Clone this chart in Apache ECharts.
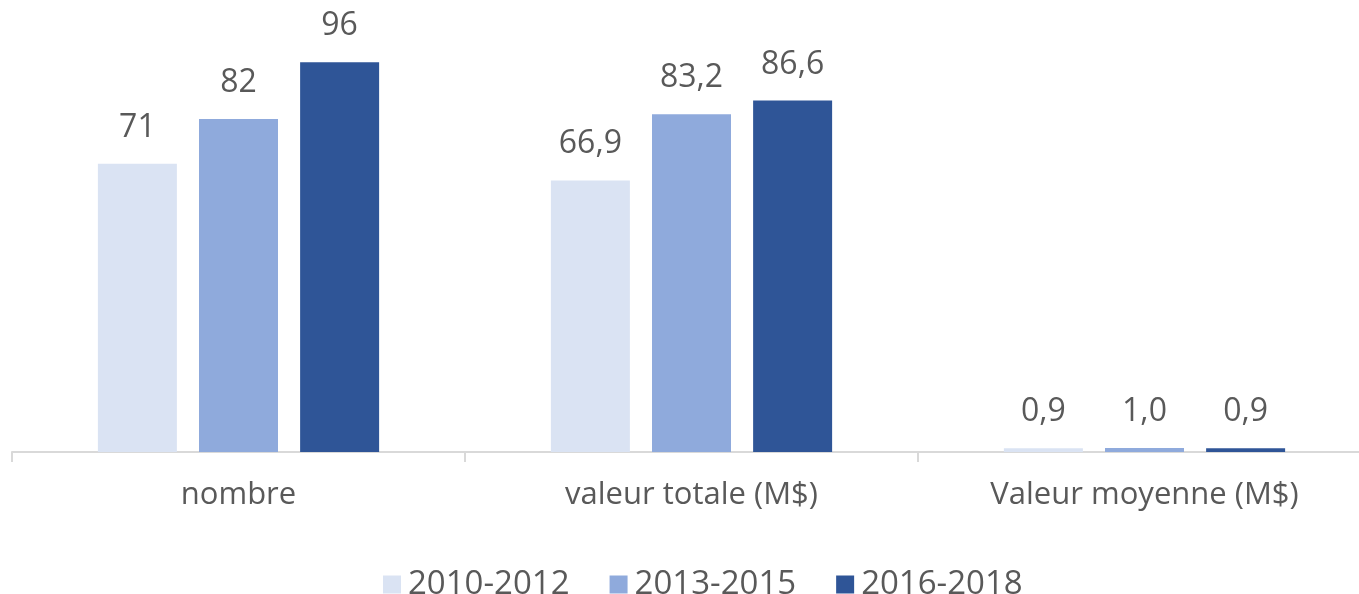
<!DOCTYPE html>
<html>
<head>
    <meta charset="utf-8">
    <script src="https://cdn.jsdelivr.net/npm/echarts@6/dist/echarts.min.js"></script>
    <style>
        html, body { margin: 0; padding: 0; background: #fff; }
    </style>
</head>
<body>
    <div id="main" style="width:1359px;height:594px;"></div>
    <script type="text/javascript">
        // données
        var categories = ['nombre', 'valeur totale (M$)', 'Valeur moyenne (M$)'];
        var seriesNames = ['2010-2012', '2013-2015', '2016-2018'];
        var data2010 = [71, 66.9, 0.9];
        var data2013 = [82, 83.2, 1.0];
        var data2016 = [96, 86.6, 0.9];
        var colors = ['#dae3f3', '#8faadc', '#2f5597'];

        var font = 'Open Sans';
        var textColor = '#595959';

        function fmt(p) {
            if (p.dataIndex === 0) return String(Math.round(p.value));
            return p.value.toFixed(1).replace('.', ',');
        }

        function makeSeries(name, values, color) {
            return {
                name: name,
                type: 'bar',
                data: values,
                barWidth: 79,
                barGap: '28%',
                itemStyle: { color: color },
                label: {
                    show: true,
                    position: 'top',
                    distance: 20,
                    color: textColor,
                    fontFamily: font,
                    fontSize: 32,
                    formatter: fmt
                }
            };
        }

        var myChart = echarts.init(document.getElementById('main'));
        var option = {
            animation: false,
            color: colors,
            grid: {
                left: 12,
                width: 1359,
                top: 46,
                bottom: 142,
                containLabel: false,
                outerBoundsMode: 'none'
            },
            legend: {
                data: seriesNames,
                left: 378,
                top: 563,
                icon: 'rect',
                itemWidth: 18,
                itemHeight: 18,
                itemGap: 40,
                textStyle: {
                    color: textColor,
                    fontFamily: font,
                    fontSize: 33,
                    padding: [0, 0, 0, 2]
                }
            },
            xAxis: {
                type: 'category',
                data: categories,
                axisLine: { lineStyle: { color: '#d9d9d9', width: 2 } },
                axisTick: { show: true, length: 10, lineStyle: { color: '#d9d9d9', width: 2 } },
                axisLabel: {
                    color: textColor,
                    fontFamily: font,
                    fontSize: 31,
                    margin: 28
                }
            },
            yAxis: {
                type: 'value',
                min: 0,
                max: 100,
                show: false,
                splitLine: { show: false }
            },
            series: [
                makeSeries(seriesNames[0], data2010, colors[0]),
                makeSeries(seriesNames[1], data2013, colors[1]),
                makeSeries(seriesNames[2], data2016, colors[2])
            ]
        };
        myChart.setOption(option);
    </script>
</body>
</html>
